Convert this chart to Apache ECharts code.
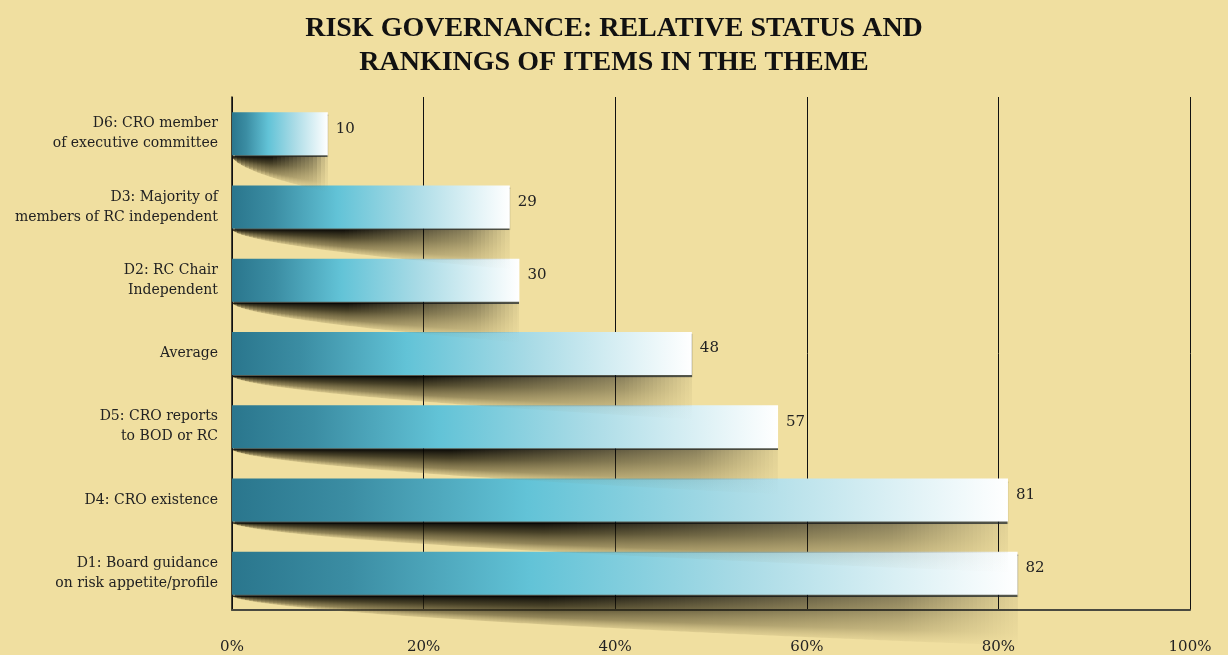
<!DOCTYPE html>
<html>
<head>
<meta charset="utf-8">
<script src="https://cdn.jsdelivr.net/npm/echarts@6/dist/echarts.min.js"></script>
<style>
html,body{margin:0;padding:0;background:#f0dfa0;}
#chart{width:1228px;height:655px;}
</style>
</head>
<body>
<div id="chart"></div>
<script>
const titleText = 'RISK GOVERNANCE: RELATIVE STATUS AND\nRANKINGS OF ITEMS IN THE THEME';
const categories = [
  'D6: CRO member\nof executive committee',
  'D3: Majority of\nmembers of RC independent',
  'D2: RC Chair\nIndependent',
  'Average',
  'D5: CRO reports\nto BOD or RC',
  'D4: CRO existence',
  'D1: Board guidance\non risk appetite/profile'
];
const values = [10, 29, 30, 48, 57, 81, 82];
const xTickValues = [0, 20, 40, 60, 80, 100];

const chart = echarts.init(document.getElementById('chart'), null, {renderer: 'canvas'});
const serif = 'DejaVu Serif';
const BAR_W = 43;

function fade(t) {
  if (t < 0.4) return 1;
  if (t < 0.85) return 1 - (t - 0.4) / 0.45 * 0.55;
  return Math.max(0, 0.45 * (1 - (t - 0.85) / 0.17));
}

function shadowFill(yTop, depth, f, k) {
  return {
    type: 'linear', x: 0, y: yTop, x2: 0, y2: yTop + depth, global: true,
    colorStops: [
      {offset: 0, color: 'rgba(0,0,0,' + (0.95 * f * k) + ')'},
      {offset: 0.35, color: 'rgba(30,26,10,' + (0.8 * f * k) + ')'},
      {offset: 0.75, color: 'rgba(70,60,30,' + (0.55 * f * k) + ')'},
      {offset: 1, color: 'rgba(120,105,60,' + (0.2 * f * k) + ')'}
    ]
  };
}

const option = {
  backgroundColor: '#f0dfa0',
  animation: false,
  title: {
    text: titleText,
    left: 'center',
    top: 7,
    textStyle: {
      fontFamily: 'Liberation Serif',
      fontWeight: 'bold',
      fontSize: 28,
      lineHeight: 34,
      color: '#111'
    }
  },
  grid: {left: 232, right: 38, top: 97, bottom: 45, containLabel: false},
  xAxis: {
    type: 'value',
    min: xTickValues[0],
    max: xTickValues[xTickValues.length - 1],
    interval: 20,
    axisLine: {show: true, lineStyle: {color: '#4a4a40', width: 2}},
    axisTick: {show: false},
    splitLine: {show: true, lineStyle: {color: '#111', width: 1}},
    axisLabel: {
      formatter: '{value}%',
      margin: 30,
      fontFamily: serif,
      fontSize: 15,
      color: '#222'
    }
  },
  yAxis: {
    type: 'category',
    data: categories,
    inverse: true,
    axisLine: {show: true, lineStyle: {color: '#111', width: 1.5}},
    axisTick: {show: false},
    axisLabel: {
      margin: 14,
      fontFamily: serif,
      fontSize: 14,
      lineHeight: 20,
      color: '#222',
      align: 'right'
    }
  },
  series: [
    {
      type: 'bar',
      z: 2,
      data: values,
      barWidth: BAR_W,
      itemStyle: {
        color: {
          type: 'linear', x: 0, y: 0, x2: 1, y2: 0,
          colorStops: [
            {offset: 0, color: '#2a768d'},
            {offset: 0.15, color: '#3b8da3'},
            {offset: 0.38, color: '#62c3d7'},
            {offset: 0.65, color: '#a9dbe6'},
            {offset: 1, color: '#ffffff'}
          ]
        },
        shadowColor: 'rgba(20,30,40,0.7)',
        shadowOffsetY: 2,
        shadowBlur: 1
      },
      label: {
        show: true,
        position: 'right',
        distance: 8,
        offset: [0, -5],
        fontFamily: serif,
        fontSize: 15,
        color: '#222'
      }
    },
    {
      type: 'custom',
      z: 3,
      clip: false,
      silent: true,
      data: values.map((v, i) => [v, i]),
      renderItem: function (params, api) {
        const v = api.value(0), c = api.value(1);
        const p0 = api.coord([0, c]);
        const p1 = api.coord([v, c]);
        const band = api.size([0, 1])[1];
        const gap = band - BAR_W;
        const isLast = c === values.length - 1;
        const yb = p0[1] + BAR_W / 2 + 1;
        const x0 = Math.round(p0[0]) + 1;
        const len = p1[0] - p0[0];
        const D = 34 + len * 0.02;
        const dep = (t) => D * Math.pow(Math.max(0, Math.min(t, 1)), 0.6);
        const xEnd = Math.round(p1[0]);
        const children = [];
        const step = 4;
        for (let xa = x0; xa < xEnd; xa += step) {
          const xb = Math.min(xa + step, xEnd);
          const tA = (xa - p0[0]) / len, tB = (xb - p0[0]) / len;
          const dA = dep(tA), dB = dep(tB);
          const f = fade((tA + tB) / 2);
          if (f <= 0) continue;
          const dM = Math.max(dA, dB, 1);
          const lim = isLast ? 1e9 : gap;
          children.push({
            type: 'polygon',
            shape: {points: [[xa, yb], [xb, yb], [xb, yb + Math.min(dB, lim)], [xa, yb + Math.min(dA, lim)]]},
            style: {fill: shadowFill(yb, dM, f, 1)}
          });
          if (!isLast && dM > gap) {
            children.push({
              type: 'polygon',
              shape: {points: [[xa, yb + gap], [xb, yb + gap], [xb, yb + Math.max(dB, gap)], [xa, yb + Math.max(dA, gap)]]},
              style: {fill: shadowFill(yb, dM, f, 0.3)}
            });
          }
        }
        return {type: 'group', children: children};
      }
    }
  ]
};
chart.setOption(option);
</script>
</body>
</html>
